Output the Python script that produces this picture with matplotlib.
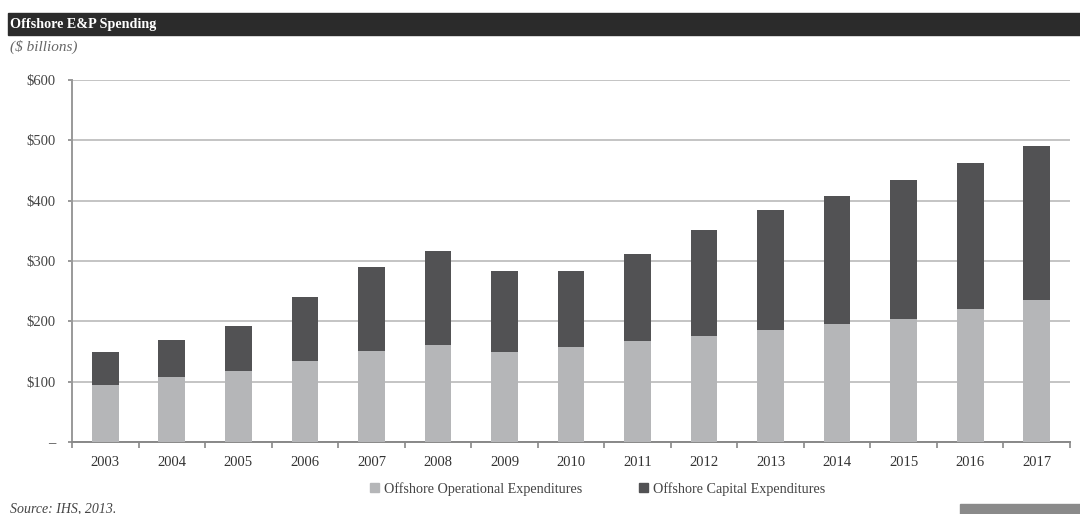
import matplotlib
matplotlib.use("Agg")
import matplotlib.pyplot as plt
import matplotlib.patches as mpatches
import numpy as np

years = ["2003", "2004", "2005", "2006", "2007", "2008", "2009", "2010",
         "2011", "2012", "2013", "2014", "2015", "2016", "2017"]
opex = [95, 107, 118, 134, 151, 160, 149, 157, 168, 176, 185, 195, 204, 220, 235]
total = [149, 169, 193, 241, 290, 316, 284, 284, 312, 352, 384, 407, 434, 462, 491]
capex = [t - o for t, o in zip(total, opex)]
yticks = [0, 100, 200, 300, 400, 500, 600]
ytick_labels = ["–", "$100", "$200", "$300", "$400", "$500", "$600"]

light = "#b5b6b8"
dark = "#525254"
serif = ["Liberation Serif", "DejaVu Serif"]

fig = plt.figure(figsize=(10.8, 5.14), dpi=100)
ax = fig.add_axes([72/1080, 1 - 442/514, (1070-72)/1080, (442-80)/514])

x = np.arange(len(years))
ax.bar(x, opex, width=0.4, color=light, zorder=3)
ax.bar(x, capex, bottom=opex, width=0.4, color=dark, zorder=3)

ax.set_xlim(-0.5, len(years) - 0.5)
ax.set_ylim(0, 600)
ax.set_yticks(yticks)
ax.set_yticklabels(ytick_labels, fontfamily=serif, fontsize=10.5, color="#444444")
ax.set_xticks(x)
ax.set_xticklabels(years, fontfamily=serif, fontsize=10.5, color="#333333")
ax.set_xticks(np.arange(-0.5, len(years)), minor=True)
ax.tick_params(axis="x", which="major", length=0, pad=10)
ax.tick_params(axis="x", which="minor", length=4, color="#888888", width=1.2)
ax.tick_params(axis="y", length=3, color="#888888", width=1.2, pad=9)

ax.yaxis.grid(True, color="#c4c4c4", linewidth=1.4, zorder=0)
ax.set_axisbelow(True)
for s in ["top", "right"]:
    ax.spines[s].set_visible(False)
ax.spines["left"].set_color("#999999")
ax.spines["left"].set_linewidth(1.4)
ax.spines["bottom"].set_color("#888888")
ax.spines["bottom"].set_linewidth(1.4)

# title bar
fig.patches.append(mpatches.Rectangle((8/1080, 1 - 35/514), 1 - 8/1080, 22/514,
                                      transform=fig.transFigure, color="#2b2b2b", zorder=0))
fig.text(10/1080, 1 - 24/514, "Offshore E&P Spending", color="white", fontweight="bold",
         fontfamily=serif, fontsize=10.2, va="center", ha="left")
fig.text(10/1080, 1 - 47/514, "($ billions)", color="#666666", fontstyle="italic",
         fontfamily=serif, fontsize=11, va="center", ha="left")
fig.text(10/1080, 1 - 509/514, "Source: IHS, 2013.", color="#444444", fontstyle="italic",
         fontfamily=serif, fontsize=10, va="center", ha="left")
fig.patches.append(mpatches.Rectangle((960/1080, 0), 120/1080, 10/514,
                                      transform=fig.transFigure, color="#8a8a8a", zorder=0))

handles = [mpatches.Patch(color=light, label="Offshore Operational Expenditures"),
           mpatches.Patch(color=dark, label="Offshore Capital Expenditures")]
fig.legend(handles=handles, loc="center", bbox_to_anchor=(598/1080, 1 - 489/514), ncol=2,
           frameon=False, prop={"family": serif, "size": 10.2}, handlelength=0.6,
           handleheight=0.6, handletextpad=0.4, columnspacing=4, labelcolor="#444444")

fig.savefig("out.png", dpi=100)
